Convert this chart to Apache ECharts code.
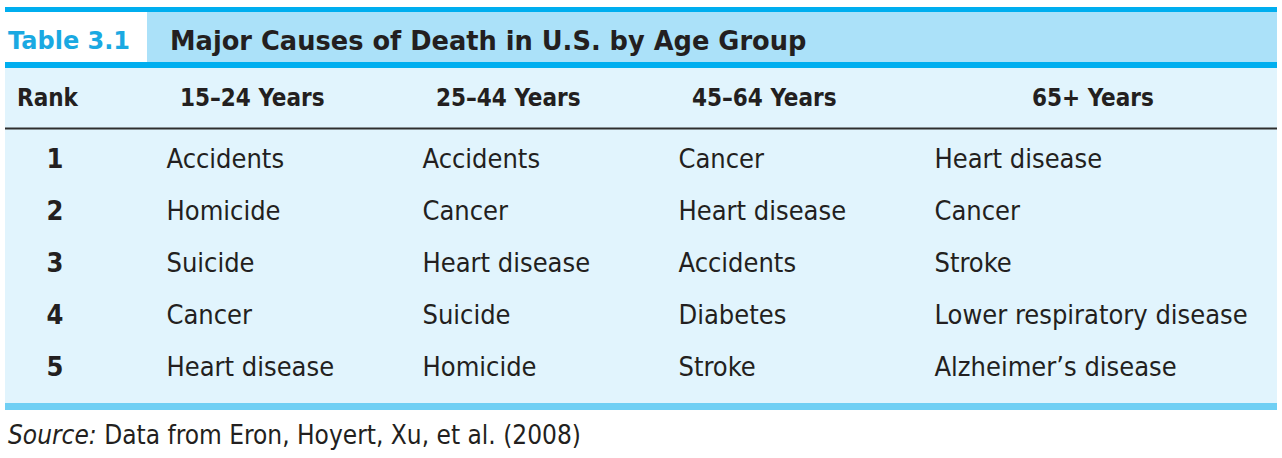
<!DOCTYPE html>
<html>
<head>
<meta charset="utf-8">
<script src="https://cdn.jsdelivr.net/npm/echarts@6/dist/echarts.min.js"></script>
<style>
  html, body { margin: 0; padding: 0; background: #fff; }
  #chart { width: 1282px; height: 458px; }
</style>
</head>
<body>
<div id="chart"></div>
<script>
// table content
const ranks = ['1', '2', '3', '4', '5'];
const ageGroups = ['15–24 Years', '25–44 Years', '45–64 Years', '65+ Years'];
const age15to24 = ['Accidents', 'Homicide', 'Suicide', 'Cancer', 'Heart disease'];
const age25to44 = ['Accidents', 'Cancer', 'Heart disease', 'Suicide', 'Homicide'];
const age45to64 = ['Cancer', 'Heart disease', 'Accidents', 'Diabetes', 'Stroke'];
const age65plus = ['Heart disease', 'Cancer', 'Stroke', 'Lower respiratory disease', 'Alzheimer’s disease'];
const causeColumns = [age15to24, age25to44, age45to64, age65plus];

const tableNo = 'Table 3.1';
const tableTitle = 'Major Causes of Death in U.S. by Age Group';
const rankHeader = 'Rank';
const sourceLabel = 'Source:';
const sourceText = ' Data from Eron, Hoyert, Xu, et al. (2008)';

const ink = '#231f20';
const cyan = '#00aeef';
const condensed = '"DejaVu Sans Condensed", "DejaVu Sans", sans-serif';

const cells = [];
causeColumns.forEach((col, c) => {
  col.forEach((name, r) => cells.push([c, ranks[r], name]));
});

// header positions (left edges for first three groups, last one centred)
const headerTexts = ageGroups.map((g, i) => {
  const last = i === ageGroups.length - 1;
  return {
    type: 'text',
    left: last ? 1092 - 60 : 180 + 256 * i,
    top: 86,
    style: { text: g, fill: ink, font: 'bold 24px ' + condensed }
  };
});

const chart = echarts.init(document.getElementById('chart'), null, { renderer: 'svg' });
const option = {
  animation: false,
  grid: { left: 166, width: 1024, top: 132, height: 260 },
  xAxis: { type: 'value', min: 0, max: 4, show: false },
  yAxis: {
    type: 'category',
    data: ranks,
    inverse: true,
    axisLine: { show: false },
    axisTick: { show: false },
    splitLine: { show: false },
    axisLabel: {
      align: 'center',
      margin: 111,
      color: ink,
      fontFamily: condensed,
      fontWeight: 'bold',
      fontSize: 27
    }
  },
  graphic: [
    { type: 'rect', z: -10, shape: { x: 5, y: 7, width: 1272, height: 5 }, style: { fill: cyan } },
    { type: 'rect', z: -10, shape: { x: 147, y: 12, width: 1130, height: 50 }, style: { fill: '#abe1f9' } },
    { type: 'rect', z: -10, shape: { x: 5, y: 62, width: 1272, height: 6 }, style: { fill: cyan } },
    { type: 'rect', z: -10, shape: { x: 5, y: 68, width: 1272, height: 335 }, style: { fill: '#e1f4fd' } },
    { type: 'rect', z: -9, shape: { x: 5, y: 127.5, width: 1272, height: 2 }, style: { fill: '#2e2e2e' } },
    { type: 'rect', z: -10, shape: { x: 5, y: 403, width: 1272, height: 7 }, style: { fill: '#6fcff4' } },
    {
      type: 'text', left: 8, top: 29,
      style: { text: tableNo, fill: '#1aa9e2', font: 'bold 24px "DejaVu Sans", sans-serif' }
    },
    {
      type: 'text', left: 170, top: 28,
      style: { text: tableTitle, fill: ink, font: 'bold 25.7px "DejaVu Sans", sans-serif' }
    },
    {
      type: 'text', left: 17, top: 86,
      style: { text: rankHeader, fill: ink, font: 'bold 24px ' + condensed }
    },
    ...headerTexts,
    {
      type: 'text', left: 8, top: 422,
      style: {
        text: '{i|' + sourceLabel + '}{r|' + sourceText + '}',
        rich: {
          i: { fontFamily: condensed, fontStyle: 'italic', fontSize: 26, fill: ink },
          r: { fontFamily: condensed, fontSize: 26, fill: ink }
        }
      }
    }
  ],
  series: [{
    type: 'scatter',
    data: cells,
    symbolSize: 1,
    itemStyle: { color: 'transparent', opacity: 1 },
    label: {
      show: true,
      position: 'right',
      distance: 0,
      formatter: p => p.data[2],
      color: ink,
      fontFamily: condensed,
      fontSize: 27
    }
  }]
};
chart.setOption(option);
</script>
</body>
</html>
